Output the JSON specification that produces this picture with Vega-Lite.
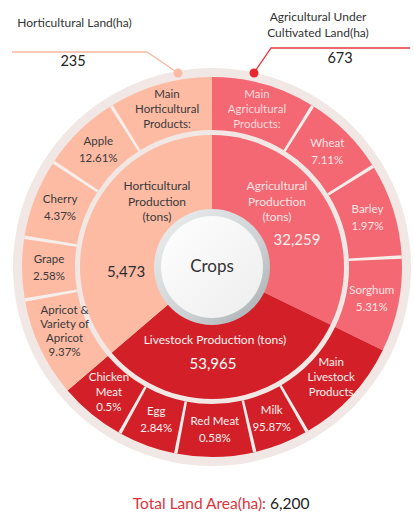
{
  "$schema": "https://vega.github.io/schema/vega-lite/v6.json",
  "width": 400,
  "height": 500,
  "autosize": {"type": "none"},
  "padding": {"left": 12, "top": 17, "right": 2, "bottom": 0},
  "background": "white",
  "config": {"view": {"stroke": null}, "font": "Lato", "text": {"font": "Lato"}},
  "datasets": {
    "disc": [{"span": 360}],
    "inner": [
      {"order": 1, "group": "Agricultural", "span": 116},
      {"order": 2, "group": "Livestock", "span": 113.5},
      {"order": 3, "group": "Horticultural", "span": 130.5}
    ],
    "outer": [
      {"order": 1, "group": "Agricultural", "label": ["Main", "Agricultural", "Products:"], "span": 32},
      {"order": 2, "group": "Agricultural", "label": ["Wheat", "7.11%"], "span": 26},
      {"order": 3, "group": "Agricultural", "label": ["Barley", "1.97%"], "span": 29},
      {"order": 4, "group": "Agricultural", "label": ["Sorghum", "5.31%"], "span": 29},
      {"order": 5, "group": "Livestock", "label": ["Main", "Livestock", "Products"], "span": 34},
      {"order": 6, "group": "Livestock", "label": ["Milk", "95.87%"], "span": 17},
      {"order": 7, "group": "Livestock", "label": ["Red Meat", "0.58%"], "span": 24},
      {"order": 8, "group": "Livestock", "label": ["Egg", "2.84%"], "span": 18},
      {"order": 9, "group": "Livestock", "label": ["Chicken", "Meat", "0.5%"], "span": 20.5},
      {"order": 10, "group": "Horticultural", "label": ["Apricot &", "Variety of", "Apricot", "9.37%"], "span": 30.5},
      {"order": 11, "group": "Horticultural", "label": ["Grape", "2.58%"], "span": 19},
      {"order": 12, "group": "Horticultural", "label": ["Cherry", "4.37%"], "span": 24.5},
      {"order": 13, "group": "Horticultural", "label": ["Apple", "12.61%"], "span": 24.5},
      {"order": 14, "group": "Horticultural", "label": ["Main", "Horticultural", "Products:"], "span": 32}
    ],
    "innerText": [
      {"group": "Agricultural", "kind": "title", "text": ["Agricultural", "Production", "(tons)"], "u": 0.325, "v": 0.405},
      {"group": "Agricultural", "kind": "value", "text": "32,259", "u": 0.425, "v": 0.135},
      {"group": "Horticultural", "kind": "title", "text": ["Horticultural", "Production", "(tons)"], "u": -0.275, "v": 0.405},
      {"group": "Horticultural", "kind": "value", "text": "5,473", "u": -0.43, "v": -0.025},
      {"group": "Livestock", "kind": "title", "text": "Livestock Production (tons)", "u": 0.015, "v": -0.365},
      {"group": "Livestock", "kind": "value", "text": "53,965", "u": 0.005, "v": -0.485}
    ],
    "leaders": [
      {"side": "left", "seq": 1, "u": -1.0, "v": 1.075},
      {"side": "left", "seq": 2, "u": -0.325, "v": 1.075},
      {"side": "left", "seq": 3, "u": -0.17, "v": 0.97},
      {"side": "right", "seq": 1, "u": 0.99, "v": 1.095},
      {"side": "right", "seq": 2, "u": 0.295, "v": 1.095},
      {"side": "right", "seq": 3, "u": 0.21, "v": 0.97}
    ],
    "dots": [
      {"side": "left", "u": -0.17, "v": 0.97},
      {"side": "right", "u": 0.21, "v": 0.97}
    ],
    "notes": [
      {"kind": "caption", "text": "Horticultural  Land(ha)", "u": -0.6875, "v": 1.22},
      {"kind": "caption", "text": "Agricultural Under", "u": 0.53, "v": 1.25},
      {"kind": "caption", "text": "Cultivated Land(ha)", "u": 0.53, "v": 1.17},
      {"kind": "value", "text": "235", "u": -0.695, "v": 1.025},
      {"kind": "value", "text": "673", "u": 0.64, "v": 1.04}
    ],
    "total": [
      {"part": "label", "text": "Total Land Area(ha):", "u": 0.27, "v": -1.185},
      {"part": "value", "text": "6,200", "u": 0.29, "v": -1.185}
    ]
  },
  "layer": [
    {
      "data": {"name": "disc"},
      "mark": {"type": "arc", "radius": 199, "radius2": 0, "fill": "#F1E8E5"},
      "encoding": {"theta": {"field": "span", "type": "quantitative", "scale": {"domain": [0, 360]}}}
    },
    {
      "data": {"name": "outer"},
      "mark": {"type": "arc", "radius": 190, "radius2": 137},
      "encoding": {
        "theta": {"field": "span", "type": "quantitative", "stack": true, "scale": {"domain": [0, 360]}},
        "order": {"field": "order", "type": "quantitative"},
        "color": {"field": "group", "type": "nominal", "scale": {"domain": ["Horticultural", "Agricultural", "Livestock"], "range": ["#FDBBA4", "#F36873", "#D31F27"]}, "legend": null}
      }
    },
    {
      "data": {"name": "outer"},
      "transform": [
        {"stack": "span", "groupby": [], "sort": [{"field": "order", "order": "ascending"}], "as": ["start", "end"]},
        {"filter": "datum.order != 1 && datum.order != 5 && datum.order != 10"}
      ],
      "mark": {"type": "arc", "radius": 190, "radius2": 137, "thetaOffset": -0.009, "theta2Offset": 0.009, "fill": "#F5EEEB"},
      "encoding": {
        "theta": {"field": "start", "type": "quantitative", "stack": null, "scale": {"domain": [0, 360]}},
        "theta2": {"field": "start"}
      }
    },
    {
      "data": {"name": "inner"},
      "mark": {"type": "arc", "radius": 132, "radius2": 0},
      "encoding": {
        "theta": {"field": "span", "type": "quantitative", "stack": true, "scale": {"domain": [0, 360]}},
        "order": {"field": "order", "type": "quantitative"},
        "color": {"field": "group", "type": "nominal", "scale": {"domain": ["Horticultural", "Agricultural", "Livestock"], "range": ["#FDBBA4", "#F36873", "#D31F27"]}, "legend": null}
      }
    },
    {
      "data": {"name": "disc"},
      "mark": {"type": "arc", "radius": 58, "radius2": 0, "fill": {"gradient": "linear", "x1": 0, "y1": 0, "x2": 1, "y2": 1, "stops": [{"offset": 0, "color": "#EEF0F1"}, {"offset": 0.6, "color": "#CDD1D3"}, {"offset": 1, "color": "#A4AAAE"}]}},
      "encoding": {"theta": {"field": "span", "type": "quantitative", "scale": {"domain": [0, 360]}}}
    },
    {
      "data": {"name": "disc"},
      "mark": {"type": "arc", "radius": 51, "radius2": 0, "fill": {"gradient": "linear", "x1": 0, "y1": 0, "x2": 1, "y2": 1, "stops": [{"offset": 0, "color": "#FFFFFF"}, {"offset": 1, "color": "#EDEDED"}]}},
      "encoding": {"theta": {"field": "span", "type": "quantitative", "scale": {"domain": [0, 360]}}}
    },
    {
      "data": {"values": [{"label": "Crops"}]},
      "mark": {"type": "text", "fontSize": 17, "color": "#333333", "align": "center", "baseline": "middle"},
      "encoding": {"text": {"field": "label", "type": "nominal"}}
    },
    {
      "data": {"name": "outer"},
      "mark": {"type": "text", "radius": 163, "align": "center", "baseline": "middle", "dy": -8, "fontSize": 11.5, "lineHeight": 17},
      "encoding": {
        "theta": {"field": "span", "type": "quantitative", "stack": true, "scale": {"domain": [0, 360]}},
        "order": {"field": "order", "type": "quantitative"},
        "text": {"condition": {"test": "length(datum.label) === 2", "field": "label", "type": "nominal"}, "value": ""},
        "color": {"condition": [{"test": "datum.group === 'Horticultural'", "value": "#3A3A3A"}, {"test": "datum.group === 'Agricultural'", "value": "#FFE4E5"}], "value": "#FFF1F0"}
      }
    },
    {
      "data": {"name": "outer"},
      "mark": {"type": "text", "radius": 163, "align": "center", "baseline": "middle", "dy": -15, "fontSize": 11.5, "lineHeight": 15},
      "encoding": {
        "theta": {"field": "span", "type": "quantitative", "stack": true, "scale": {"domain": [0, 360]}},
        "order": {"field": "order", "type": "quantitative"},
        "text": {"condition": {"test": "length(datum.label) === 3", "field": "label", "type": "nominal"}, "value": ""},
        "color": {"condition": [{"test": "datum.group === 'Horticultural'", "value": "#3A3A3A"}, {"test": "datum.group === 'Agricultural'", "value": "#FFDADC"}], "value": "#FFF1F0"}
      }
    },
    {
      "data": {"name": "outer"},
      "mark": {"type": "text", "radius": 163, "align": "center", "baseline": "middle", "dy": -26, "fontSize": 11.5, "lineHeight": 14},
      "encoding": {
        "theta": {"field": "span", "type": "quantitative", "stack": true, "scale": {"domain": [0, 360]}},
        "order": {"field": "order", "type": "quantitative"},
        "text": {"condition": {"test": "length(datum.label) === 4", "field": "label", "type": "nominal"}, "value": ""},
        "color": {"condition": [{"test": "datum.group === 'Horticultural'", "value": "#3A3A3A"}, {"test": "datum.group === 'Agricultural'", "value": "#FFE4E5"}], "value": "#FFF1F0"}
      }
    },
    {
      "data": {"name": "innerText"},
      "transform": [{"filter": "datum.kind === 'title'"}],
      "mark": {"type": "text", "align": "center", "baseline": "middle", "fontSize": 12, "lineHeight": 15.5},
      "encoding": {
        "x": {"field": "u", "type": "quantitative", "scale": {"domain": [-1, 1], "nice": false, "zero": false}, "axis": null},
        "y": {"field": "v", "type": "quantitative", "scale": {"domain": [-1.25, 1.25], "nice": false, "zero": false}, "axis": null},
        "text": {"field": "text", "type": "nominal"},
        "color": {"condition": [{"test": "datum.group === 'Horticultural'", "value": "#3A3A3A"}, {"test": "datum.group === 'Agricultural'", "value": "#FFE4E5"}], "value": "#FFF4F3"}
      }
    },
    {
      "data": {"name": "innerText"},
      "transform": [{"filter": "datum.kind === 'value'"}],
      "mark": {"type": "text", "align": "center", "baseline": "middle", "fontSize": 15},
      "encoding": {
        "x": {"field": "u", "type": "quantitative", "scale": {"domain": [-1, 1], "nice": false, "zero": false}, "axis": null},
        "y": {"field": "v", "type": "quantitative", "scale": {"domain": [-1.25, 1.25], "nice": false, "zero": false}, "axis": null},
        "text": {"field": "text", "type": "nominal"},
        "color": {"condition": [{"test": "datum.group === 'Horticultural'", "value": "#2E2E2E"}, {"test": "datum.group === 'Agricultural'", "value": "#FFF0F0"}], "value": "#FFFFFF"}
      }
    },
    {
      "data": {"name": "leaders"},
      "mark": {"type": "line", "strokeWidth": 1.3},
      "encoding": {
        "x": {"field": "u", "type": "quantitative", "scale": {"domain": [-1, 1], "nice": false, "zero": false}, "axis": null},
        "y": {"field": "v", "type": "quantitative", "scale": {"domain": [-1.25, 1.25], "nice": false, "zero": false}, "axis": null},
        "order": {"field": "seq", "type": "quantitative"},
        "stroke": {"field": "side", "type": "nominal", "scale": {"domain": ["left", "right"], "range": ["#F9B8A2", "#E8373D"]}, "legend": null}
      }
    },
    {
      "data": {"name": "dots"},
      "mark": {"type": "point", "filled": true, "size": 80, "opacity": 1, "strokeWidth": 0},
      "encoding": {
        "x": {"field": "u", "type": "quantitative", "scale": {"domain": [-1, 1], "nice": false, "zero": false}, "axis": null},
        "y": {"field": "v", "type": "quantitative", "scale": {"domain": [-1.25, 1.25], "nice": false, "zero": false}, "axis": null},
        "fill": {"field": "side", "type": "nominal", "scale": {"domain": ["left", "right"], "range": ["#FCBAA5", "#E8262F"]}, "legend": null}
      }
    },
    {
      "data": {"name": "notes"},
      "transform": [{"filter": "datum.kind === 'caption'"}],
      "mark": {"type": "text", "align": "center", "baseline": "middle", "fontSize": 12, "color": "#333333"},
      "encoding": {
        "x": {"field": "u", "type": "quantitative", "scale": {"domain": [-1, 1], "nice": false, "zero": false}, "axis": null},
        "y": {"field": "v", "type": "quantitative", "scale": {"domain": [-1.25, 1.25], "nice": false, "zero": false}, "axis": null},
        "text": {"field": "text", "type": "nominal"}
      }
    },
    {
      "data": {"name": "notes"},
      "transform": [{"filter": "datum.kind === 'value'"}],
      "mark": {"type": "text", "align": "center", "baseline": "middle", "fontSize": 14.5, "color": "#222222"},
      "encoding": {
        "x": {"field": "u", "type": "quantitative", "scale": {"domain": [-1, 1], "nice": false, "zero": false}, "axis": null},
        "y": {"field": "v", "type": "quantitative", "scale": {"domain": [-1.25, 1.25], "nice": false, "zero": false}, "axis": null},
        "text": {"field": "text", "type": "nominal"}
      }
    },
    {
      "data": {"name": "total"},
      "transform": [{"filter": "datum.part === 'label'"}],
      "mark": {"type": "text", "align": "right", "baseline": "middle", "fontSize": 15.5, "color": "#E0323B"},
      "encoding": {
        "x": {"field": "u", "type": "quantitative", "scale": {"domain": [-1, 1], "nice": false, "zero": false}, "axis": null},
        "y": {"field": "v", "type": "quantitative", "scale": {"domain": [-1.25, 1.25], "nice": false, "zero": false}, "axis": null},
        "text": {"field": "text", "type": "nominal"}
      }
    },
    {
      "data": {"name": "total"},
      "transform": [{"filter": "datum.part === 'value'"}],
      "mark": {"type": "text", "align": "left", "baseline": "middle", "fontSize": 15.5, "color": "#222222"},
      "encoding": {
        "x": {"field": "u", "type": "quantitative", "scale": {"domain": [-1, 1], "nice": false, "zero": false}, "axis": null},
        "y": {"field": "v", "type": "quantitative", "scale": {"domain": [-1.25, 1.25], "nice": false, "zero": false}, "axis": null},
        "text": {"field": "text", "type": "nominal"}
      }
    }
  ]
}
